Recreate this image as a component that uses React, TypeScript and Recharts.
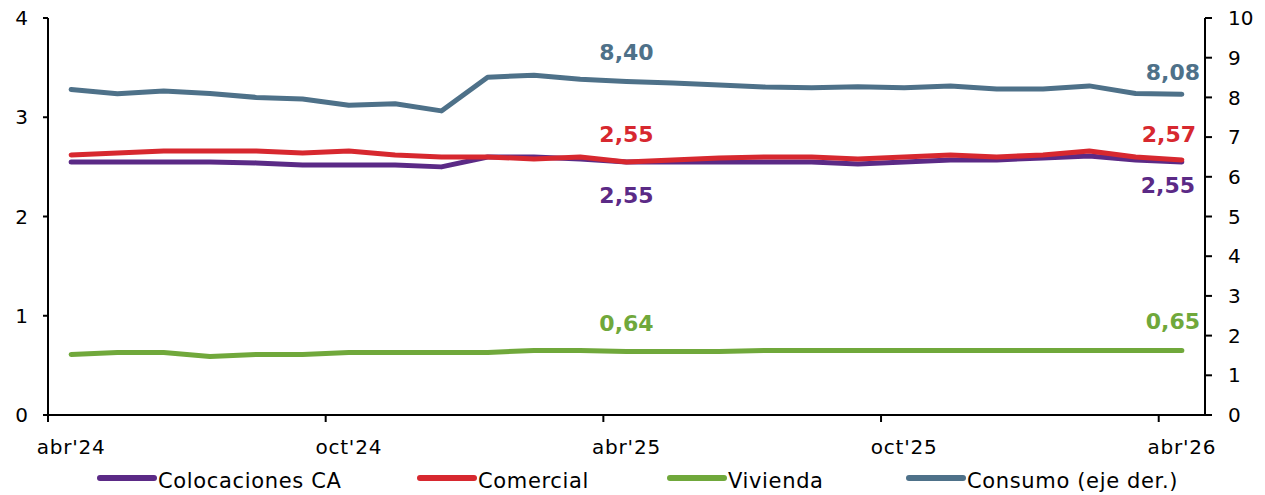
import { LineChart, Line, XAxis, YAxis, Legend, LabelList } from "recharts"

const months = [
  "abr'24", "may'24", "jun'24", "jul'24", "ago'24", "sep'24", "oct'24", "nov'24", "dic'24",
  "ene'25", "feb'25", "mar'25", "abr'25", "may'25", "jun'25", "jul'25", "ago'25", "sep'25",
  "oct'25", "nov'25", "dic'25", "ene'26", "feb'26", "mar'26", "abr'26",
]

const colocaciones = [2.55, 2.55, 2.55, 2.55, 2.54, 2.52, 2.52, 2.52, 2.5, 2.6, 2.6, 2.58, 2.55, 2.55, 2.55, 2.55, 2.55, 2.53, 2.55, 2.57, 2.57, 2.59, 2.61, 2.57, 2.55]
const comercial = [2.62, 2.64, 2.66, 2.66, 2.66, 2.64, 2.66, 2.62, 2.6, 2.6, 2.58, 2.6, 2.55, 2.57, 2.59, 2.6, 2.6, 2.58, 2.6, 2.62, 2.6, 2.62, 2.66, 2.6, 2.57]
const vivienda = [0.61, 0.63, 0.63, 0.59, 0.61, 0.61, 0.63, 0.63, 0.63, 0.63, 0.65, 0.65, 0.64, 0.64, 0.64, 0.65, 0.65, 0.65, 0.65, 0.65, 0.65, 0.65, 0.65, 0.65, 0.65]
const consumo = [8.2, 8.09, 8.16, 8.1, 8.0, 7.96, 7.8, 7.84, 7.66, 8.51, 8.56, 8.46, 8.4, 8.36, 8.31, 8.26, 8.24, 8.27, 8.24, 8.29, 8.21, 8.21, 8.29, 8.1, 8.08]

const leftTicks = [0, 1, 2, 3, 4]
const rightTicks = [0, 1, 2, 3, 4, 5, 6, 7, 8, 9, 10]
const labeledIdx = [12, 24]

const data = months.map((m, i) => ({
  month: m,
  colocaciones: colocaciones[i],
  comercial: comercial[i],
  vivienda: vivienda[i],
  consumo: consumo[i],
}))

const W = 1265
const H = 495
const LEFT_W = 48
const RIGHT_W = 60
const PLOT_W = W - LEFT_W - RIGHT_W
const BAND = PLOT_W / months.length

const FONT = "'DejaVu Sans', Verdana, sans-serif"
const PURPLE = "#5B2A86"
const RED = "#D7282F"
const GREEN = "#70A83B"
const BLUE = "#4E7189"

const series = [
  { key: "colocaciones", name: "Colocaciones CA", color: PURPLE, axis: "left", legendX: 100, offsets: { 12: [0, 33], 24: [-14, 23] } },
  { key: "comercial", name: "Comercial", color: RED, axis: "left", legendX: 420, offsets: { 12: [0, -28], 24: [-13, -26] } },
  { key: "vivienda", name: "Vivienda", color: GREEN, axis: "left", legendX: 670, offsets: { 12: [0, -28], 24: [-9, -29] } },
  { key: "consumo", name: "Consumo (eje der.)", color: BLUE, axis: "right", legendX: 909, offsets: { 12: [0, -30], 24: [-9, -22] } },
]

const fmt = (v: number) => v.toFixed(2).replace(".", ",")

// value labels only on the highlighted months
const makeLabel = (color: string, offsets: Record<number, number[]>) => (props: any) => {
  const { x, y, value, index } = props
  if (!labeledIdx.includes(index)) return null
  const [dx, dy] = offsets[index]
  return (
    <text x={x + dx} y={y + dy + 8} textAnchor="middle" fill={color}
      fontFamily={FONT} fontSize={22} fontWeight="bold">
      {fmt(value)}
    </text>
  )
}

// month label centred on the category, tick mark on the category boundary
const XTick = (props: any) => {
  const { x, y, payload } = props
  const tx = x - BAND / 2
  return (
    <g>
      <line x1={tx} x2={tx} y1={y - 7} y2={y} stroke="#000" strokeWidth={2} />
      <text x={x} y={y + 31.5} textAnchor="middle" fill="#000" fontFamily={FONT}
        fontSize={20} letterSpacing={0.8}>
        {payload.value}
      </text>
    </g>
  )
}

const LegendContent = () => (
  <svg width={W} height={35} style={{ display: "block" }}>
    {series.map((s) => (
      <g key={s.key}>
        <line x1={s.legendX} x2={s.legendX + 54} y1={18} y2={18} stroke={s.color}
          strokeWidth={6} strokeLinecap="round" />
        <text x={s.legendX + 58} y={28} fill="#000" fontFamily={FONT} fontSize={21}
          letterSpacing={0.65}>
          {s.name}
        </text>
      </g>
    ))}
  </svg>
)

const axisStroke = { stroke: "#000", strokeWidth: 2 }

export default function App() {
  return (
    <div style={{ position: "absolute", left: 0, top: 0, width: W, height: H, background: "#fff" }}>
      {/* unit caption sits above the frame, only its descenders show */}
      <svg width={300} height={10} style={{ position: "absolute", left: 0, top: 0 }}>
        <text x={0} y={-5} fontFamily={FONT} fontSize={24} letterSpacing={1} fill="#000">
          (porcentaje)
        </text>
      </svg>
      <LineChart width={W} height={H} data={data} margin={{ top: 18, right: 0, bottom: 0, left: 0 }}>
        <XAxis
          dataKey="month"
          interval={5}
          padding={{ left: BAND / 2, right: BAND / 2 }}
          height={45}
          tickSize={7}
          tickMargin={0}
          tickLine={false}
          axisLine={axisStroke}
          tick={<XTick />}
        />
        <YAxis
          yAxisId="left"
          domain={[0, 4]}
          ticks={leftTicks}
          width={LEFT_W}
          tickSize={5}
          tickMargin={15}
          axisLine={axisStroke}
          tickLine={axisStroke}
          tick={{ fill: "#000", fontSize: 20, fontFamily: FONT }}
        />
        <YAxis
          yAxisId="right"
          orientation="right"
          domain={[0, 10]}
          ticks={rightTicks}
          width={RIGHT_W}
          tickSize={7}
          tickMargin={16}
          axisLine={axisStroke}
          tickLine={axisStroke}
          tick={{ fill: "#000", fontSize: 20, fontFamily: FONT }}
        />
        <Legend
          verticalAlign="bottom"
          height={35}
          wrapperStyle={{ left: 0, bottom: 0, width: W, height: 35 }}
          content={<LegendContent />}
        />
        {series.map((s) => (
          <Line
            key={s.key}
            yAxisId={s.axis}
            dataKey={s.key}
            name={s.name}
            stroke={s.color}
            strokeWidth={5}
            strokeLinecap="round"
            strokeLinejoin="round"
            dot={false}
            activeDot={false}
            isAnimationActive={false}
          >
            <LabelList dataKey={s.key} content={makeLabel(s.color, s.offsets)} />
          </Line>
        ))}
      </LineChart>
    </div>
  )
}
